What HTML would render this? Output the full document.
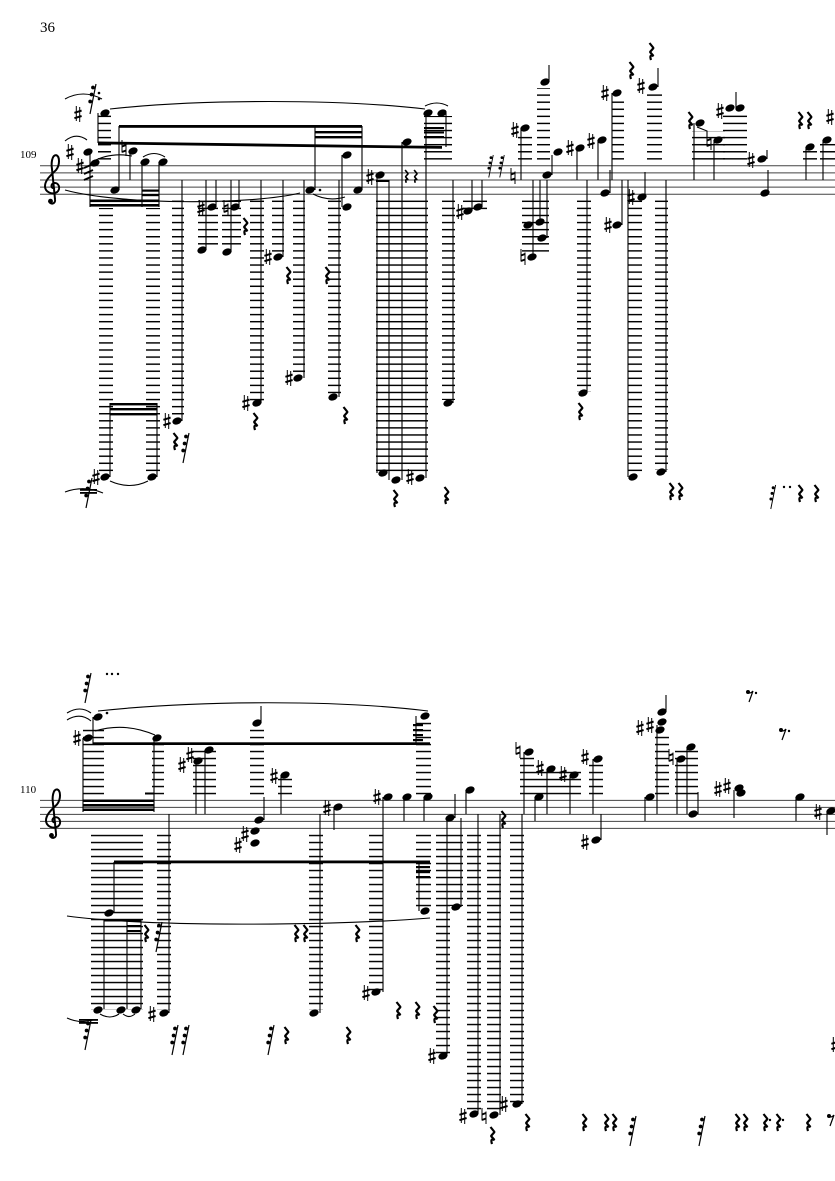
<!DOCTYPE html>
<html><head><meta charset="utf-8"><style>
html,body{margin:0;padding:0;background:#fff;}
svg{display:block;}
text{font-family:"Liberation Serif",serif;fill:#000;}
</style></head><body>
<svg xmlns="http://www.w3.org/2000/svg" width="835" height="1181" viewBox="0 0 835 1181">
<defs>
<pattern id="L1" x="0" y="165.2" width="10" height="7.08" patternUnits="userSpaceOnUse"><rect x="0" y="0" width="10" height="1.45"/></pattern>
<pattern id="L2" x="0" y="799.8" width="10" height="7" patternUnits="userSpaceOnUse"><rect x="0" y="0" width="10" height="1.45"/></pattern>
<ellipse id="n" rx="4.8" ry="3.4" transform="rotate(-22)"/>
<g id="sh"><path d="M-1.7,-8V7M1.7,-7V8" stroke="#000" stroke-width="1" fill="none"/><path d="M-3.6,-1.2L3.6,-3.4M-3.6,4.2L3.6,2" stroke="#000" stroke-width="2" fill="none"/></g>
<g id="na"><path d="M-2,-8V4.5M2,-4.5V8" stroke="#000" stroke-width="1" fill="none"/><path d="M-2,-1.5L2,-3M-2,4L2,2.5" stroke="#000" stroke-width="1.9" fill="none"/></g>
<path id="qr" d="M1.5,0L5.5,5L2,9L5.5,13Q1,11 3,17" fill="none" stroke="#000" stroke-width="2.2" stroke-linejoin="bevel"/>
<g id="r32"><path d="M7,0L1,30" stroke="#000" stroke-width="1.2" fill="none"/><circle cx="4" cy="3.5" r="1.9"/><circle cx="2.6" cy="10.5" r="1.9"/><circle cx="1.2" cy="17.5" r="1.9"/></g>
<g id="r8"><circle cx="2" cy="2" r="2"/><path d="M2,3Q5,3.5 7,1L3,12" fill="none" stroke="#000" stroke-width="1.2"/><circle cx="10" cy="3" r="1.2"/></g>
<g id="clef"><path d="M2,1C-2,2 -3,-3 1,-4C6,-5 8,2 4,5C-1,8 -8,5 -8,-1C-8,-7 -2,-12 3,-17C7,-22 7,-31 3,-32C-1,-32 -2,-24 -1,-18L2,12C3,17 -3,18 -4,14" fill="none" stroke="#000" stroke-width="2"/><circle cx="-2.5" cy="14" r="2.4"/></g>
</defs>

<text x="40" y="32" font-size="15">36</text>
<text x="20" y="158" font-size="11">109</text>
<text x="20" y="793" font-size="11">110</text>

<g stroke="#444" stroke-width="1">
<path d="M40,165.8H835M40,172.9H835M40,180H835M40,187.1H835M40,194.2H835"/>
<path d="M40,800.4H835M40,807.4H835M40,814.4H835M40,821.4H835M40,828.4H835"/>
</g>
<use href="#clef" x="53" y="187.1"/>
<use href="#clef" x="54" y="821.4"/>

<!-- ======= SYSTEM 1 ======= -->
<g fill="url(#L1)">
<rect x="98" y="115" width="13" height="47"/>
<rect x="99" y="208" width="14" height="267"/>
<rect x="146" y="208" width="14" height="267"/>
<rect x="172" y="200" width="12" height="218"/>
<rect x="198" y="200" width="20" height="48"/>
<rect x="222" y="200" width="19" height="50"/>
<rect x="250" y="200" width="14" height="201"/>
<rect x="272" y="200" width="12" height="56"/>
<rect x="293" y="200" width="12" height="177"/>
<rect x="328" y="200" width="13" height="196"/>
<rect x="376" y="200" width="52" height="275"/>
<rect x="424" y="116" width="28" height="45"/>
<rect x="442" y="200" width="13" height="200"/>
<rect x="463" y="200" width="24" height="10"/>
<rect x="522" y="200" width="27" height="55"/>
<rect x="518" y="136" width="14" height="25"/>
<rect x="537" y="88" width="13" height="73"/>
<rect x="577" y="200" width="14" height="192"/>
<rect x="612" y="99" width="12" height="62"/>
<rect x="647" y="94" width="15" height="67"/>
<rect x="628" y="200" width="14" height="275"/>
<rect x="655" y="200" width="13" height="270"/>
<rect x="692" y="131" width="33" height="30"/>
<rect x="723" y="115" width="24" height="46"/>
<rect x="803" y="150" width="14" height="11"/>
<rect x="820" y="143" width="15" height="18"/>
</g>

<path fill="none" stroke="#000" stroke-width="1.1" d="
M98,113V143 M119,126V190 M315,126V190 M362,126V190 M342,155V207 M90,152V207 M130,152V180
M142,162V207 M159,162V207 M110,403V477 M157,403V477 M182,180V421 M206,180V250 M216,180V207
M231,180V252 M239,180V207 M261,180V403 M283,180V257 M304,180V378 M339,180V397 M377,175V473
M389,180V480 M402,142V480 M426,113V478 M446,113V147 M453,180V403 M472,180V211 M482,180V207
M521,128V180 M533,180V257 M540,180V222 M547,180V238 M549,65V82 M552,155V175 M577,148V180
M598,140V180 M587,180V393 M610,170V193 M612,93V180 M658,68V87 M622,180V225 M645,172V197
M628,180V477 M666,180V472 M694,123V180 M714,140V180 M736,92V108 M767,150V159 M768,170V193
M806,147V180 M823,140V180 M697,127L707,131V137"/>

<g fill="#000">
<path d="M98,141.5L442,146L442,148.8L98,144.3Z"/>
<rect x="119" y="125" width="243" height="2.8"/>
<rect x="315" y="131" width="47" height="2.4"/>
<rect x="315" y="136" width="47" height="2.4"/>
<rect x="90" y="199.5" width="69" height="2.6"/>
<rect x="90" y="204" width="69" height="2.6"/>
<rect x="142" y="189.5" width="17" height="2.2"/>
<rect x="142" y="194" width="17" height="2.2"/>
<rect x="110" y="403" width="47" height="2.4"/>
<rect x="110" y="408" width="47" height="2.4"/>
<rect x="110" y="413" width="47" height="2.4"/>
<rect x="424" y="127" width="20" height="2"/>
<rect x="424" y="131.5" width="20" height="2"/>
<rect x="424" y="136" width="20" height="2"/>
<rect x="376" y="180" width="13" height="2"/>
<rect x="80" y="489" width="17" height="1.8"/>
<rect x="80" y="492" width="17" height="1.8"/>
<circle cx="320" cy="190" r="1.3"/>
</g>
<path d="M84,168L93,164M84,174L93,170M84,180L93,176" stroke="#000" stroke-width="1.9" fill="none"/>

<g fill="none" stroke="#000" stroke-width="1.1">
<path d="M65,99Q83,89 102,99"/>
<path d="M110,109C200,99 340,99 425,109"/>
<path d="M65,141Q76,132 87,140"/>
<path d="M92,162Q110,152 132,156"/>
<path d="M143,157Q154,150 165,157"/>
<path d="M65,190C120,205 250,205 300,193"/>
<path d="M313,194Q328,202 345,197"/>
<path d="M110,481Q130,490 148,481"/>
<path d="M65,492Q84,485 103,493"/>
<path d="M425,106Q437,100 448,106"/>
</g>

<g>
<use href="#n" x="105" y="113"/><use href="#n" x="88" y="152"/><use href="#n" x="95" y="163"/>
<use href="#n" x="133" y="151"/><use href="#n" x="145" y="162"/><use href="#n" x="163" y="162"/>
<use href="#n" x="115" y="190"/><use href="#n" x="310" y="190"/><use href="#n" x="358" y="190"/>
<use href="#n" x="347" y="155"/><use href="#n" x="347" y="207"/><use href="#n" x="105" y="477"/>
<use href="#n" x="152" y="477"/><use href="#n" x="177" y="421"/><use href="#n" x="212" y="207"/>
<use href="#n" x="202" y="250"/><use href="#n" x="235" y="207"/><use href="#n" x="227" y="252"/>
<use href="#n" x="257" y="403"/><use href="#n" x="278" y="257"/><use href="#n" x="298" y="378"/>
<use href="#n" x="333" y="397"/><use href="#n" x="380" y="175"/><use href="#n" x="383" y="473"/>
<use href="#n" x="396" y="480"/><use href="#n" x="420" y="478"/><use href="#n" x="407" y="142"/>
<use href="#n" x="428" y="113"/><use href="#n" x="442" y="113"/><use href="#n" x="448" y="403"/>
<use href="#n" x="468" y="211"/><use href="#n" x="478" y="207"/><use href="#n" x="528" y="225"/>
<use href="#n" x="540" y="222"/><use href="#n" x="542" y="238"/><use href="#n" x="532" y="257"/>
<use href="#n" x="525" y="128"/><use href="#n" x="545" y="82"/><use href="#n" x="547" y="175"/>
<use href="#n" x="558" y="152"/><use href="#n" x="580" y="148"/><use href="#n" x="602" y="140"/>
<use href="#n" x="583" y="393"/><use href="#n" x="605" y="193"/><use href="#n" x="617" y="93"/>
<use href="#n" x="653" y="87"/><use href="#n" x="617" y="225"/><use href="#n" x="642" y="197"/>
<use href="#n" x="633" y="477"/><use href="#n" x="661" y="472"/><use href="#n" x="700" y="123"/>
<use href="#n" x="718" y="140"/><use href="#n" x="730" y="108"/><use href="#n" x="740" y="108"/>
<use href="#n" x="762" y="159"/><use href="#n" x="765" y="193"/><use href="#n" x="810" y="147"/>
<use href="#n" x="827" y="140"/>
</g>

<g>
<use href="#sh" x="78" y="114"/><use href="#sh" x="70" y="152"/><use href="#sh" x="80" y="166"/>
<use href="#sh" x="167" y="421"/><use href="#sh" x="201" y="208"/><use href="#sh" x="246" y="403"/>
<use href="#sh" x="268" y="257"/><use href="#sh" x="289" y="378"/><use href="#sh" x="370" y="177"/>
<use href="#sh" x="410" y="477"/><use href="#sh" x="460" y="212"/><use href="#sh" x="515" y="130"/>
<use href="#sh" x="570" y="148"/><use href="#sh" x="591" y="141"/><use href="#sh" x="605" y="93"/>
<use href="#sh" x="608" y="225"/><use href="#sh" x="631" y="197"/><use href="#sh" x="641" y="86"/>
<use href="#sh" x="720" y="111"/><use href="#sh" x="751" y="160"/><use href="#sh" x="830" y="117"/>
<use href="#sh" x="96" y="477"/>
<use href="#na" x="124" y="148"/><use href="#na" x="226" y="208"/><use href="#na" x="513" y="176"/>
<use href="#na" x="523" y="257"/><use href="#na" x="709" y="142"/>
</g>

<g>
<use href="#qr" x="242" y="218"/><use href="#qr" x="252" y="413"/><use href="#qr" x="285" y="267"/>
<use href="#qr" x="324" y="267"/><use href="#qr" x="342" y="407"/><use href="#qr" x="172" y="433"/>
<use href="#qr" x="392" y="490"/><use href="#qr" x="443" y="487"/><use href="#qr" x="577" y="403"/>
<use href="#qr" x="628" y="62"/><use href="#qr" x="648" y="43"/><use href="#qr" x="668" y="483"/>
<use href="#qr" x="677" y="483"/><use href="#qr" x="687" y="112"/><use href="#qr" x="797" y="112"/>
<use href="#qr" x="806" y="112"/><use href="#qr" x="797" y="485"/><use href="#qr" x="813" y="485"/>
<use href="#qr" transform="translate(404,170) scale(0.75)"/><use href="#qr" transform="translate(413,170) scale(0.75)"/>
<use href="#r32" x="182" y="433"/><use href="#r32" x="85" y="478"/><use href="#r32" x="89" y="84"/>
<use href="#r32" transform="translate(488,155) scale(0.75)"/><use href="#r32" transform="translate(499,155) scale(0.75)"/>
<use href="#r32" transform="translate(770,485) scale(0.8)"/>
<circle cx="99" cy="93" r="1.3"/><circle cx="99" cy="99" r="1.3"/>
<circle cx="784" cy="487" r="1.2"/><circle cx="790" cy="487" r="1.2"/>
</g>

<!-- ======= SYSTEM 2 ======= -->
<g fill="url(#L2)">
<rect x="83" y="729" width="21" height="67"/>
<rect x="152" y="743" width="12" height="53"/>
<rect x="193" y="750" width="23" height="46"/>
<rect x="250" y="729" width="14" height="67"/>
<rect x="278" y="778" width="14" height="18"/>
<rect x="309" y="834" width="14" height="176"/>
<rect x="369" y="834" width="14" height="157"/>
<rect x="91" y="834" width="52" height="176"/>
<rect x="157" y="834" width="14" height="176"/>
<rect x="416" y="719" width="15" height="77"/>
<rect x="416" y="834" width="15" height="76"/>
<rect x="436" y="834" width="14" height="222"/>
<rect x="450" y="834" width="13" height="72"/>
<rect x="467" y="834" width="14" height="280"/>
<rect x="487" y="834" width="14" height="280"/>
<rect x="510" y="834" width="14" height="270"/>
<rect x="520" y="757" width="14" height="39"/>
<rect x="534" y="771" width="47" height="25"/>
<rect x="589" y="764" width="14" height="32"/>
<rect x="655" y="736" width="14" height="60"/>
<rect x="675" y="750" width="23" height="46"/>
<rect x="838" y="834" width="12" height="206"/>
</g>

<path fill="none" stroke="#000" stroke-width="1.1" d="
M83,738V812 M93,717V744 M154,738V812 M196,761V814 M205,750V814 M261,706V723 M281,775V814
M264,797V820 M320,814V1013 M334,807V830 M383,797V992 M404,797V821 M424,797V821 M114,862V913
M104,920V1009 M127,920V1009 M141,920V1009 M169,814V1013 M416,716V743 M419,862V911 M455,794V818
M447,818V1054 M461,818V907 M466,790V814 M478,814V1113 M500,814V1115 M522,814V1104 M524,752V814
M535,797V821 M547,769V814 M570,775V814 M593,759V814 M601,814V840 M645,797V821 M666,695V712
M657,725V814 M677,759V814 M687,747V814 M698,792V814 M734,790V818 M796,797V821 M827,811V835"/>

<g fill="#000">
<rect x="93" y="742.3" width="337" height="2.7"/>
<rect x="83" y="799.5" width="71" height="2.5"/>
<rect x="83" y="804" width="71" height="2.5"/>
<rect x="83" y="808.5" width="71" height="2.5"/>
<rect x="145" y="792.5" width="9" height="2"/>
<rect x="114" y="860.5" width="316" height="2.8"/>
<rect x="416" y="866" width="14" height="2.2"/>
<rect x="416" y="871" width="14" height="2.2"/>
<rect x="416" y="876" width="14" height="2.2"/>
<rect x="104" y="919" width="37" height="2.5"/>
<rect x="127" y="925" width="14" height="2"/>
<rect x="127" y="930" width="14" height="2"/>
<rect x="413" y="724" width="10" height="2.2"/>
<rect x="413" y="729" width="10" height="2.2"/>
<rect x="413" y="734" width="10" height="2.2"/>
<rect x="413" y="739" width="10" height="2.2"/>
<rect x="79" y="1019" width="19" height="1.8"/>
<rect x="79" y="1022" width="19" height="1.8"/>
<circle cx="107" cy="713" r="1.3"/>
<circle cx="107" cy="674" r="1.2"/><circle cx="112" cy="674" r="1.2"/><circle cx="118" cy="674" r="1.2"/>
<circle cx="770" cy="1120" r="1.2"/><circle cx="783" cy="1120" r="1.2"/>
</g>

<g fill="none" stroke="#000" stroke-width="1.1">
<path d="M67,713Q80,705 91,713"/>
<path d="M67,720Q80,712 91,721"/>
<path d="M98,711C200,700 340,700 428,711"/>
<path d="M95,731Q125,722 155,735"/>
<path d="M67,916C150,927 330,926 430,918"/>
<path d="M100,1014Q110,1020 119,1014"/>
<path d="M123,1014Q129,1019 135,1014"/>
<path d="M67,1018Q80,1024 93,1020"/>
</g>

<g>
<use href="#n" x="98" y="717"/><use href="#n" x="88" y="738"/><use href="#n" x="157" y="738"/>
<use href="#n" x="198" y="761"/><use href="#n" x="209" y="750"/><use href="#n" x="257" y="723"/>
<use href="#n" x="285" y="775"/><use href="#n" x="259" y="820"/><use href="#n" x="255" y="831"/>
<use href="#n" x="255" y="843"/><use href="#n" x="314" y="1013"/><use href="#n" x="338" y="807"/>
<use href="#n" x="388" y="797"/><use href="#n" x="376" y="992"/><use href="#n" x="407" y="797"/>
<use href="#n" x="428" y="797"/><use href="#n" x="109" y="913"/><use href="#n" x="98" y="1010"/>
<use href="#n" x="121" y="1010"/><use href="#n" x="136" y="1010"/><use href="#n" x="164" y="1013"/>
<use href="#n" x="425" y="716"/><use href="#n" x="425" y="911"/><use href="#n" x="450" y="818"/>
<use href="#n" x="443" y="1056"/><use href="#n" x="456" y="907"/><use href="#n" x="470" y="790"/>
<use href="#n" x="474" y="1114"/><use href="#n" x="494" y="1115"/><use href="#n" x="517" y="1104"/>
<use href="#n" x="529" y="752"/><use href="#n" x="539" y="797"/><use href="#n" x="551" y="769"/>
<use href="#n" x="574" y="775"/><use href="#n" x="598" y="759"/><use href="#n" x="596" y="840"/>
<use href="#n" x="650" y="797"/><use href="#n" x="662" y="712"/><use href="#n" x="662" y="722"/>
<use href="#n" x="660" y="730"/><use href="#n" x="681" y="759"/><use href="#n" x="691" y="747"/>
<use href="#n" x="693" y="814"/><use href="#n" x="739" y="788"/><use href="#n" x="741" y="793"/>
<use href="#n" x="800" y="797"/><use href="#n" x="831" y="811"/><use href="#n" x="845" y="1044"/>
</g>

<g>
<use href="#sh" x="77" y="738"/><use href="#sh" x="182" y="765"/><use href="#sh" x="190" y="755"/>
<use href="#sh" x="274" y="776"/><use href="#sh" x="238" y="845"/><use href="#sh" x="245" y="834"/>
<use href="#sh" x="327" y="808"/><use href="#sh" x="377" y="797"/><use href="#sh" x="366" y="993"/>
<use href="#sh" x="152" y="1014"/><use href="#sh" x="432" y="1056"/><use href="#sh" x="463" y="1116"/>
<use href="#sh" x="504" y="1104"/><use href="#sh" x="540" y="768"/><use href="#sh" x="563" y="774"/>
<use href="#sh" x="585" y="757"/><use href="#sh" x="585" y="842"/><use href="#sh" x="640" y="728"/>
<use href="#sh" x="650" y="725"/><use href="#sh" x="718" y="789"/><use href="#sh" x="727" y="786"/>
<use href="#sh" x="818" y="812"/><use href="#sh" x="835" y="1045"/>
<use href="#na" x="484" y="1116"/><use href="#na" x="518" y="750"/><use href="#na" x="671" y="757"/>
</g>

<g>
<use href="#qr" x="293" y="925"/><use href="#qr" x="302" y="925"/><use href="#qr" x="354" y="925"/>
<use href="#qr" x="395" y="1002"/><use href="#qr" x="414" y="1002"/><use href="#qr" x="143" y="925"/>
<use href="#qr" x="432" y="1006"/><use href="#qr" x="489" y="1127"/><use href="#qr" x="500" y="811"/>
<use href="#qr" x="524" y="1114"/><use href="#qr" x="581" y="1114"/><use href="#qr" x="603" y="1114"/>
<use href="#qr" x="611" y="1114"/><use href="#qr" x="734" y="1114"/><use href="#qr" x="742" y="1114"/>
<use href="#qr" x="762" y="1114"/><use href="#qr" x="775" y="1114"/><use href="#qr" x="805" y="1114"/>
<use href="#qr" x="283" y="1027"/><use href="#qr" x="345" y="1027"/><use href="#qr" x="843" y="1056"/>
<use href="#r32" x="84" y="673"/><use href="#r32" x="155" y="922"/><use href="#r32" x="171" y="1025"/>
<use href="#r32" x="182" y="1025"/><use href="#r32" x="267" y="1025"/><use href="#r32" x="629" y="1116"/>
<use href="#r32" x="698" y="1116"/><use href="#r32" x="84" y="1020"/>
<use href="#r8" x="746" y="690"/><use href="#r8" x="779" y="728"/><use href="#r8" x="827" y="1114"/>
</g>
</svg>
</body></html>
